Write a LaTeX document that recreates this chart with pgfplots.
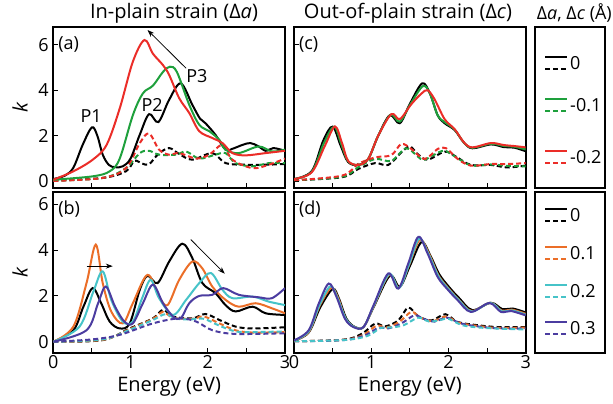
\documentclass[border=0pt]{standalone}
\usepackage{fontspec}
\setmainfont{Open Sans}
\usepackage{pgfplots}
\pgfplotsset{compat=1.18}
\usetikzlibrary{arrows.meta}
\definecolor{cgreen}{RGB}{30,160,60}
\definecolor{cred}{RGB}{235,45,40}
\definecolor{corange}{RGB}{235,110,40}
\definecolor{ccyan}{RGB}{70,195,200}
\definecolor{cpurple}{RGB}{75,60,160}
\newcommand{\fs}{\fontsize{18}{18}\selectfont}
\newcommand{\fl}{\fontsize{20}{20}\selectfont}
\pgfplotsset{
  panel/.style={scale only axis, width=231.7pt, xmin=0, xmax=3,
    axis line style={line width=2pt}, tick align=inside, tick pos=left,
    xtick={0,1,2,3}, minor xtick={0.5,1.5,2.5}, ytick={0,2,4,6},
    major tick length=5pt, minor tick length=5pt,
    tick style={line width=1.1pt, black},
    ticklabel style={font=\fs},
    yticklabel style={xshift=-1pt},
    xticklabel style={yshift=1pt},
    /pgf/number format/assume math mode=true,
    every axis plot/.append style={line width=2pt, smooth, tension=0.55},
    label style={font=\fl},
    xlabel style={at={(axis description cs:0.5,0)}, anchor=center, yshift=-34pt},
  },
  toprow/.style={height=160pt, ymin=-0.27, ymax=6.75, xticklabels={}},
  botrow/.style={height=161pt, ymin=-0.48, ymax=6.55, xlabel={Energy (eV)}},
}
\tikzset{dsh/.style={dash pattern=on 5pt off 3pt}}
\begin{document}
\begin{tikzpicture}
\path[use as bounding box] (0,0) rectangle (613pt,-404pt);

% ---------------- (a)
\begin{axis}[panel, toprow, at={(53.3pt,-27.5pt)}, anchor=north west]
\addplot[black, dsh] coordinates {(0,0.03) (0.64,0.15) (0.94,0.44) (1.05,0.9) (1.15,0.78) (1.24,0.75) (1.36,1.2) (1.5,1.46) (1.63,1.2) (1.8,0.95) (2.06,1.24) (2.23,0.8) (2.49,0.73) (2.75,0.73) (3,0.76)};
\addplot[cgreen, dsh] coordinates {(0,0.03) (0.64,0.15) (0.94,0.58) (1.12,1.24) (1.24,1.34) (1.37,1.17) (1.59,1.17) (1.72,1.31) (1.89,1.0) (2.1,1.17) (2.23,1.24) (2.36,0.8) (2.58,0.66) (2.79,0.8) (3,0.8)};
\addplot[cred, dsh] coordinates {(0,0.02) (0.64,0.15) (0.94,0.58) (1.12,1.68) (1.24,2.1) (1.37,1.39) (1.5,1.17) (1.63,1.24) (1.85,1.0) (2.02,1.17) (2.19,1.6) (2.32,0.95) (2.58,0.58) (2.79,0.73) (3,1.0)};
\addplot[black] coordinates {(0,0.1) (0.15,0.25) (0.26,0.6) (0.38,1.6) (0.5,2.37) (0.57,2.0) (0.64,1.17) (0.72,0.72) (0.8,0.62) (0.9,0.66) (1.0,1.0) (1.12,2.05) (1.24,2.95) (1.36,2.6) (1.5,3.58) (1.65,4.3) (1.8,3.36) (1.9,2.75) (1.97,2.55) (2.1,2.04) (2.23,1.39) (2.32,1.43) (2.45,1.6) (2.55,1.68) (2.65,1.55) (2.75,1.34) (2.85,1.46) (3,1.34)};
\addplot[cgreen] coordinates {(0,0.07) (0.51,0.22) (0.73,0.44) (0.86,1.0) (1.03,2.9) (1.16,3.86) (1.29,4.2) (1.42,4.8) (1.51,5.03) (1.6,4.8) (1.76,3.36) (1.89,2.48) (2.02,2.2) (2.15,1.82) (2.23,1.39) (2.4,1.24) (2.66,1.53) (2.83,1.31) (3,1.39)};
\addplot[cred] coordinates {(0,0.07) (0.26,0.44) (0.51,0.95) (0.69,1.6) (0.86,3.2) (1.03,5.25) (1.18,6.2) (1.29,5.6) (1.42,5.1) (1.5,4.67) (1.63,3.65) (1.76,3.0) (1.89,2.2) (2.06,1.9) (2.19,1.68) (2.32,1.24) (2.49,1.14) (2.75,1.24) (3,1.34)};
\draw[-{Stealth[length=7pt,width=5pt]}, line width=0.8pt] (axis cs:1.72,4.96) -- (axis cs:1.22,6.64);
\node[anchor=west, font=\fs, inner sep=1pt] at (axis cs:0.05,6) {(a)};
\node[font=\fs] at (axis cs:0.49,2.85) {P1};
\node[font=\fs] at (axis cs:1.28,3.36) {P2};
\node[font=\fs] at (axis cs:1.86,4.6) {P3};
\end{axis}

% ---------------- (b)
\begin{axis}[panel, botrow, at={(53.3pt,-191.7pt)}, anchor=north west]
\addplot[black, dsh] coordinates {(0,0) (0.64,0.07) (0.99,0.58) (1.29,1.02) (1.42,1.39) (1.55,1.1) (1.8,1.02) (1.97,1.21) (2.15,0.95) (2.36,0.66) (2.58,0.58) (3,0.63)};
\addplot[corange, dsh] coordinates {(0,0) (0.64,0.08) (0.99,0.55) (1.29,1.0) (1.42,1.3) (1.55,1.05) (1.8,1.0) (1.95,1.1) (2.15,0.8) (2.36,0.5) (2.58,0.4) (3,0.42)};
\addplot[ccyan, dsh] coordinates {(0,0) (0.64,0.1) (0.99,0.52) (1.29,0.95) (1.45,1.2) (1.6,1.0) (1.8,0.98) (1.95,1.0) (2.15,0.7) (2.36,0.45) (2.58,0.42) (3,0.45)};
\addplot[cpurple, dsh] coordinates {(0,0) (0.5,0.1) (0.86,0.3) (1.29,0.8) (1.63,1.02) (1.85,0.88) (2.06,0.5) (2.36,0.34) (3,0.37)};
\addplot[black] coordinates {(0,0) (0.26,0.5) (0.39,1.53) (0.51,2.34) (0.62,1.68) (0.73,0.88) (0.86,0.58) (0.99,0.8) (1.12,2.27) (1.22,2.88) (1.35,2.56) (1.5,3.5) (1.67,4.28) (1.8,3.65) (1.93,2.56) (2.1,2.12) (2.23,1.6) (2.36,1.32) (2.58,1.53) (2.75,1.24) (3,1.17)};
\addplot[corange] coordinates {(0,0) (0.26,0.66) (0.43,2.56) (0.55,4.24) (0.64,2.56) (0.75,1.32) (0.9,0.8) (1.03,1.68) (1.22,2.92) (1.37,1.97) (1.48,1.6) (1.63,2.7) (1.8,3.5) (1.93,3.2) (2.06,2.4) (2.23,1.83) (2.4,1.53) (2.62,1.68) (2.83,1.46) (3,1.24)};
\addplot[ccyan] coordinates {(0,0) (0.34,0.66) (0.52,2.2) (0.64,3.07) (0.75,1.83) (0.9,0.88) (1.03,0.88) (1.15,1.9) (1.26,2.7) (1.37,1.9) (1.55,1.17) (1.72,1.83) (1.89,2.56) (2.04,3.0) (2.19,2.27) (2.32,1.9) (2.58,1.97) (2.79,1.75) (3,1.6)};
\addplot[cpurple] coordinates {(0,0) (0.43,0.5) (0.58,1.68) (0.68,2.41) (0.8,1.53) (0.92,0.88) (1.03,0.8) (1.16,1.68) (1.29,2.49) (1.42,1.68) (1.55,1.1) (1.65,1.02) (1.76,1.68) (1.89,2.0) (2.06,2.05) (2.2,2.34) (2.4,2.05) (2.66,1.94) (2.83,1.9) (3,2.34)};
\draw[-{Stealth[length=7pt,width=5pt]}, line width=0.8pt] (axis cs:0.43,3.3) -- (axis cs:0.77,3.3);
\draw[-{Stealth[length=7pt,width=5pt]}, line width=0.8pt] (axis cs:1.78,4.46) -- (axis cs:2.22,2.97);
\node[anchor=west, font=\fs, inner sep=1pt] at (axis cs:0.05,5.8) {(b)};
\end{axis}

% ---------------- (c)
\begin{axis}[panel, toprow, at={(294pt,-27.5pt)}, anchor=north west, yticklabels={}]
\addplot[black, dsh] coordinates {(0,0.05) (0.62,0.18) (0.83,0.54) (1.05,0.8) (1.22,0.72) (1.39,1.27) (1.5,1.53) (1.6,1.2) (1.73,0.95) (1.95,1.3) (2.08,1.12) (2.29,0.72) (2.55,0.72) (2.76,0.61) (3,0.69)};
\addplot[cgreen, dsh] coordinates {(0,0.05) (0.62,0.2) (0.83,0.62) (1.05,0.98) (1.26,0.9) (1.45,1.45) (1.6,1.1) (1.69,0.95) (1.93,1.34) (2.08,1.1) (2.29,0.7) (2.55,0.74) (2.76,0.68) (3,0.66)};
\addplot[cred, dsh] coordinates {(0,0.05) (0.62,0.25) (0.83,0.76) (1.05,1.05) (1.26,1.15) (1.39,1.64) (1.52,1.42) (1.69,0.98) (1.86,1.42) (1.97,1.45) (2.12,0.98) (2.29,0.69) (2.55,0.76) (2.76,0.76) (3,0.8)};
\addplot[black] coordinates {(0,0.1) (0.23,0.45) (0.38,1.8) (0.5,2.4) (0.6,1.6) (0.7,0.85) (0.83,0.72) (0.96,0.98) (1.09,2.0) (1.24,2.9) (1.37,2.55) (1.5,3.4) (1.66,4.3) (1.76,3.85) (1.86,2.9) (1.95,2.55) (2.08,2.25) (2.2,1.7) (2.31,1.45) (2.55,1.62) (2.72,1.5) (2.85,1.48) (3,1.32)};
\addplot[cgreen] coordinates {(0,0.1) (0.23,0.42) (0.39,1.7) (0.52,2.4) (0.61,1.65) (0.7,0.88) (0.83,0.72) (0.96,0.98) (1.09,2.0) (1.25,2.92) (1.37,2.62) (1.51,3.4) (1.67,4.18) (1.76,3.85) (1.86,2.9) (1.95,2.6) (2.08,2.27) (2.2,1.7) (2.31,1.47) (2.55,1.65) (2.72,1.55) (2.85,1.52) (3,1.4)};
\addplot[cred] coordinates {(0,0.1) (0.23,0.4) (0.4,1.56) (0.53,2.41) (0.62,1.7) (0.7,0.9) (0.83,0.72) (0.96,0.98) (1.09,2.0) (1.26,2.95) (1.37,2.73) (1.52,3.39) (1.65,3.85) (1.73,4.0) (1.82,3.6) (1.95,2.73) (2.08,2.29) (2.2,1.71) (2.31,1.49) (2.55,1.68) (2.72,1.59) (2.85,1.55) (3,1.49)};
\node[anchor=west, font=\fs, inner sep=1pt] at (axis cs:0.05,6) {(c)};
\end{axis}

% ---------------- (d)
\begin{axis}[panel, botrow, at={(294pt,-191.7pt)}, anchor=north west, yticklabels={}]
\addplot[black, dsh] coordinates {(0,0.02) (0.64,0.09) (0.88,0.35) (1.05,0.79) (1.18,0.67) (1.35,0.93) (1.48,1.49) (1.61,1.11) (1.78,0.93) (1.96,1.2) (2.12,0.86) (2.38,0.72) (2.64,0.64) (3,0.64)};
\addplot[corange, dsh] coordinates {(0,0.02) (0.64,0.08) (0.9,0.3) (1.07,0.7) (1.2,0.62) (1.37,0.88) (1.52,1.3) (1.64,1.05) (1.8,0.9) (1.97,1.1) (2.14,0.82) (2.4,0.68) (2.64,0.6) (3,0.62)};
\addplot[cpurple, dsh] coordinates {(0,0.02) (0.64,0.07) (0.92,0.28) (1.1,0.62) (1.22,0.58) (1.4,0.82) (1.56,1.15) (1.68,1.0) (1.82,0.88) (1.98,1.05) (2.16,0.8) (2.4,0.66) (2.66,0.58) (3,0.58)};
\addplot[ccyan, dsh] coordinates {(0,0.02) (0.64,0.07) (0.95,0.25) (1.12,0.6) (1.25,0.62) (1.42,0.72) (1.61,1.05) (1.75,0.88) (1.9,0.95) (2.0,1.0) (2.18,0.72) (2.4,0.62) (2.66,0.57) (3,0.53)};
\addplot[black] coordinates {(0,0.05) (0.19,0.4) (0.34,1.5) (0.5,2.3) (0.58,1.9) (0.68,1.0) (0.79,0.64) (0.9,0.64) (1.03,1.5) (1.24,2.88) (1.37,2.4) (1.5,3.3) (1.65,4.35) (1.76,3.8) (1.88,2.95) (2.01,2.38) (2.14,1.9) (2.31,1.38) (2.55,1.7) (2.7,1.42) (2.83,1.45) (3,1.28)};
\addplot[corange] coordinates {(0,0.05) (0.19,0.42) (0.33,1.55) (0.48,2.35) (0.57,1.92) (0.67,1.0) (0.78,0.64) (0.9,0.64) (1.03,1.53) (1.23,2.92) (1.36,2.36) (1.49,3.35) (1.63,4.45) (1.75,3.82) (1.87,2.9) (2.0,2.33) (2.13,1.85) (2.3,1.34) (2.54,1.7) (2.69,1.36) (2.82,1.4) (3,1.22)};
\addplot[ccyan] coordinates {(0,0.05) (0.19,0.45) (0.33,1.6) (0.47,2.42) (0.56,1.94) (0.67,1.0) (0.78,0.64) (0.9,0.64) (1.03,1.55) (1.23,2.95) (1.36,2.34) (1.49,3.38) (1.62,4.5) (1.74,3.84) (1.87,2.86) (2.0,2.3) (2.13,1.83) (2.3,1.32) (2.54,1.7) (2.69,1.33) (2.82,1.37) (3,1.18)};
\addplot[cpurple] coordinates {(0,0.06) (0.19,0.5) (0.32,1.66) (0.45,2.54) (0.55,1.96) (0.66,1.0) (0.77,0.64) (0.9,0.64) (1.03,1.59) (1.22,2.98) (1.35,2.32) (1.48,3.42) (1.61,4.58) (1.73,3.85) (1.86,2.83) (1.99,2.28) (2.12,1.81) (2.29,1.3) (2.53,1.69) (2.68,1.3) (2.81,1.34) (3,1.15)};
\node[anchor=west, font=\fs, inner sep=1pt] at (axis cs:0.05,5.8) {(d)};
\end{axis}

% ---------------- y labels
\node[rotate=90, font=\fl] at (20pt,-107.5pt) {\textit{k}};
\node[rotate=90, font=\fl] at (20pt,-272pt) {\textit{k}};

% ---------------- titles
\node[font=\fl] at (174pt,-13pt) {In-plain strain (Δ\textit{a})};
\node[font=\fl] at (408pt,-13pt) {Out-of-plain strain (Δ\textit{c})};
\node[font=\fs, anchor=east, inner sep=1pt] at (613pt,-13pt) {Δ\textit{a}, Δ\textit{c} (Å)};

% ---------------- legend boxes
\draw[line width=2pt] (535pt,-27.5pt) rectangle (605pt,-187.5pt);
\draw[line width=2pt] (535pt,-191.7pt) rectangle (605pt,-352.7pt);
\foreach \c/\y/\t in {black/57/0, cgreen/99/-0.1, cred/151/-0.2, black/209/0, corange/247/0.1, ccyan/285/0.2, cpurple/322/0.3}{
  \draw[\c, line width=2pt] (545pt,-\y pt) -- (567pt,-\y pt);
  \draw[\c, line width=2pt, dash pattern=on 5pt off 3pt] (545pt,-\y pt-12pt) -- (567pt,-\y pt-12pt);
  \node[anchor=west, font=\fs, inner sep=0pt] at (570pt,-\y pt-6pt) {\t};
}
\end{tikzpicture}
\end{document}
